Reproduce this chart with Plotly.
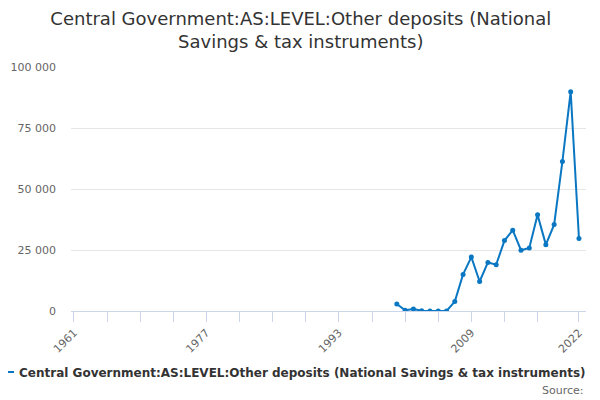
import plotly.graph_objects as go

# --- data ---
years = list(range(2000, 2023))
deposits = [2900, 300, 800, 100, 0, 0, 0, 3850, 15000, 22100, 12100, 19900,
            19000, 28850, 33100, 24900, 25800, 39400, 27200, 35400, 61300,
            89900, 29700]

tick_years = list(range(1961, 2018, 4)) + [2022]
label_years = [1961, 1977, 1993, 2009, 2022]
tick_text = [str(y) if y in label_years else "" for y in tick_years]

series_name = "Central Government:AS:LEVEL:Other deposits (National Savings & tax instruments)"
title_text = ("Central Government:AS:LEVEL:Other deposits (National<br>"
              "Savings & tax instruments)")

fig = go.Figure()

fig.add_trace(go.Scatter(
    x=years,
    y=deposits,
    mode="lines+markers",
    name=series_name,
    line=dict(color="#0a77c2", width=2),
    marker=dict(color="#0a77c2", size=5),
))

# the page body adds an 8px offset, so everything is nudged up/left by 8px
fig.update_layout(
    width=600,
    height=400,
    font=dict(family="DejaVu Sans", color="#333333"),
    separators=". ",
    paper_bgcolor="white",
    plot_bgcolor="white",
    margin=dict(l=63, r=22, t=59, b=97, autoexpand=False),
    title=dict(
        text=title_text,
        x=0.488,
        xanchor="center",
        xref="container",
        y=0.9575,
        yanchor="middle",
        font=dict(size=18, color="#333333"),
    ),
    showlegend=True,
    legend=dict(
        orientation="h",
        xref="paper",
        yref="paper",
        x=-0.1786,
        xanchor="left",
        y=-0.25,
        yanchor="middle",
        font=dict(size=12, color="#333333", weight="bold"),
        bgcolor="rgba(0,0,0,0)",
    ),
    annotations=[dict(
        text="Source:",
        xref="paper",
        yref="paper",
        x=1.0,
        xanchor="right",
        y=-0.324,
        yanchor="middle",
        showarrow=False,
        font=dict(size=11, color="#666666"),
    )],
)

fig.update_xaxes(
    range=[1960.64, 2022.85],
    automargin=False,
    tickmode="array",
    tickvals=tick_years,
    ticktext=tick_text,
    tickangle=-45,
    ticks="outside",
    ticklen=10,
    tickcolor="#ccd6eb",
    showline=True,
    linecolor="#ccd6eb",
    linewidth=1,
    showgrid=False,
    zeroline=False,
    tickfont=dict(size=11, color="#666666"),
)

fig.update_yaxes(
    range=[0, 100000],
    automargin=False,
    tickvals=[0, 25000, 50000, 75000, 100000],
    tickformat=",",
    showgrid=True,
    gridcolor="#e6e6e6",
    zeroline=False,
    showline=False,
    ticks="",
    ticklabelstandoff=14,
    tickfont=dict(size=11, color="#666666"),
)

fig.write_html("out.html")
